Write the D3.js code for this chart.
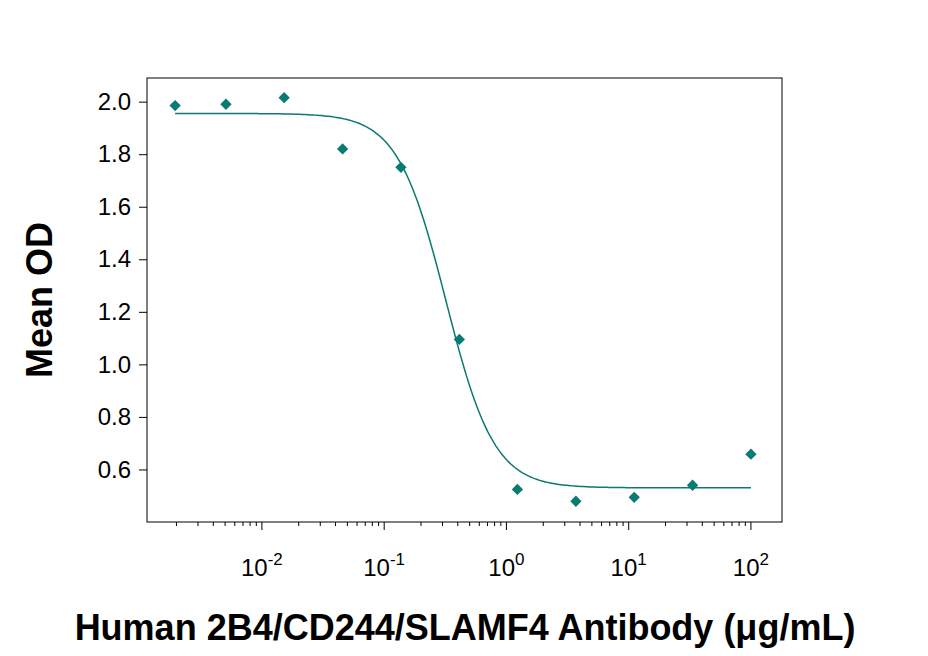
<!DOCTYPE html>
<html><head><meta charset="utf-8">
<script src="https://cdn.jsdelivr.net/npm/d3@7"></script>
<style>body{margin:0;background:#fff;font-family:"Liberation Sans",Arial,sans-serif}</style>
</head><body>
<script>
"use strict";
var concentrations = [0.00195, 0.00508, 0.0152, 0.0457, 0.137, 0.412, 1.23, 3.70, 11.1, 33.3, 100];
var meanOD = [1.985, 1.99, 2.015, 1.82, 1.75, 1.095, 0.524, 0.479, 0.494, 0.54, 0.658];
var yTicks = [0.6, 0.8, 1.0, 1.2, 1.4, 1.6, 1.8, 2.0];
var xTickExps = [-2, -1, 0, 1, 2];
// fitted 4PL parameters: bottom, top, EC50, hill
var fitParams = [0.53, 1.955, 0.32, 2.2];

var width = 928, height = 656;
var box = {left: 147, right: 782, top: 78, bottom: 522};
var teal = "#0b7a72";

var svg = d3.select("body").append("svg").attr("width", width).attr("height", height);

var x = d3.scaleLog().domain([Math.pow(10, -2.94), Math.pow(10, 2.254)]).range([box.left, box.right]);
var y = d3.scaleLinear().domain([0.4, 2.09]).range([box.bottom, box.top]);

svg.append("rect").attr("x", box.left).attr("y", box.top)
  .attr("width", box.right - box.left).attr("height", box.bottom - box.top)
  .attr("fill", "none").attr("stroke", "#000").attr("stroke-width", 1);

// y axis
var yAxis = svg.append("g").attr("transform", "translate(" + box.left + ",0)")
  .call(d3.axisLeft(y).tickValues(yTicks).tickFormat(d3.format(".1f")).tickSize(8).tickPadding(8));
yAxis.select(".domain").remove();
yAxis.selectAll("text").attr("font-size", 24).attr("font-family", "Liberation Sans, Arial").attr("fill", "#000");

// x axis: major + minor
var minor = [];
for (var e = -3; e <= 2; e++) for (var m = 2; m < 10; m++) {
  var v = m * Math.pow(10, e);
  if (v >= x.domain()[0] && v <= x.domain()[1]) minor.push(v);
}
var gx = svg.append("g").attr("transform", "translate(0," + box.bottom + ")");
gx.selectAll("line.minor").data(minor).enter().append("line")
  .attr("x1", function (d) { return x(d); }).attr("x2", function (d) { return x(d); })
  .attr("y1", 0).attr("y2", 4).attr("stroke", "#000");
gx.selectAll("line.major").data(xTickExps).enter().append("line")
  .attr("x1", function (d) { return x(Math.pow(10, d)); }).attr("x2", function (d) { return x(Math.pow(10, d)); })
  .attr("y1", 0).attr("y2", 8).attr("stroke", "#000");
var lbl = gx.selectAll("text").data(xTickExps).enter().append("text")
  .attr("x", function (d) { return x(Math.pow(10, d)); }).attr("y", 54)
  .attr("text-anchor", "middle").attr("font-size", 24).attr("fill", "#000");
lbl.append("tspan").text("10");
lbl.append("tspan").attr("font-size", 17).attr("dy", -11).text(function (d) { return d; });

// fitted curve
var lo = Math.log10(concentrations[0]), hi = Math.log10(100);
var curvePts = d3.range(0, 301).map(function (i) {
  var c = Math.pow(10, lo + (hi - lo) * i / 300);
  return [c, fitParams[0] + (fitParams[1] - fitParams[0]) / (1 + Math.pow(c / fitParams[2], fitParams[3]))];
});
svg.append("path").datum(curvePts)
  .attr("d", d3.line().x(function (d) { return x(d[0]); }).y(function (d) { return y(d[1]); }))
  .attr("fill", "none").attr("stroke", teal).attr("stroke-width", 1.5);

// points
svg.selectAll("path.pt").data(concentrations).enter().append("path")
  .attr("class", "pt")
  .attr("d", d3.symbol().type(d3.symbolSquare).size(64))
  .attr("transform", function (d, i) { return "translate(" + x(d) + "," + y(meanOD[i]) + ") rotate(45)"; })
  .attr("fill", teal);

// titles
svg.append("text").attr("x", 465).attr("y", 640).attr("text-anchor", "middle")
  .attr("font-size", 36).attr("font-weight", "bold").attr("fill", "#000")
  .text("Human 2B4/CD244/SLAMF4 Antibody (\u03bcg/mL)");
svg.append("text").attr("transform", "translate(52,300) rotate(-90)").attr("text-anchor", "middle")
  .attr("font-size", 36).attr("font-weight", "bold").attr("fill", "#000").text("Mean OD");
</script>
</body></html>
